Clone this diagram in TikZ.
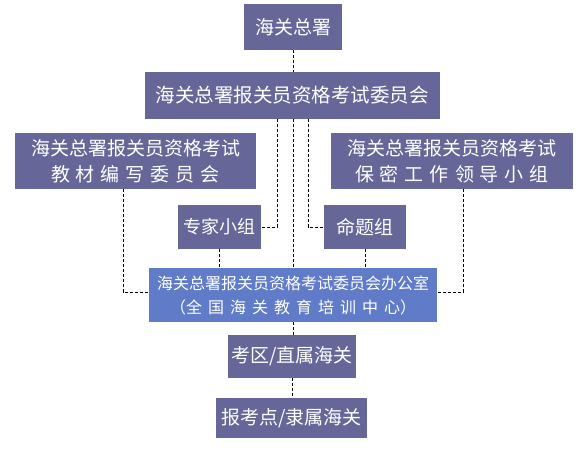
\documentclass[tikz,border=0pt]{standalone}
\usepackage{fontspec}
\newfontfamily\cjk{Noto Sans CJK SC}
\definecolor{boxc}{RGB}{102,102,153}
\definecolor{offc}{RGB}{96,124,200}
\newcommand\mygap{\hspace{6pt}}
\begin{document}
\begin{tikzpicture}[x=1pt,y=-1pt,
  box/.style={fill=boxc, text=white, inner sep=0pt, align=center, font=\cjk\fontsize{19}{26}\selectfont},
  conn/.style={draw=black, line width=0.7pt, dash pattern=on 3pt off 2pt}]
\useasboundingbox (0,0) rectangle (588,454);
\fill[white] (0,0) rectangle (588,454);

\node[box, minimum width=98pt, minimum height=46pt] (zs) at (293,27) {海关总署};
\node[box, minimum width=295pt, minimum height=47pt, font=\cjk\fontsize{19.5}{26}\selectfont] (wyh) at (292,95.5) {海关总署报关员资格考试委员会};
\node[box, minimum width=241pt, minimum height=56pt] (jc) at (135.5,161)
  {海关总署报关员资格考试\\教\mygap 材\mygap 编\mygap 写\mygap 委\mygap 员\mygap 会};
\node[box, minimum width=242pt, minimum height=56pt] (bm) at (452,161)
  {海关总署报关员资格考试\\保\mygap 密\mygap 工\mygap 作\mygap 领\mygap 导\mygap 小\mygap 组};
\node[box, minimum width=83pt, minimum height=44pt, font=\cjk\fontsize{18}{24}\selectfont] (zj) at (219.5,227) {专家小组};
\node[box, minimum width=82pt, minimum height=44pt] (mt) at (365,227) {命题组};
\node[box, fill=offc, minimum width=288pt, minimum height=54pt, font=\cjk\fontsize{16}{24}\selectfont] (bgs) at (293,295)
  {海关总署报关员资格考试委员会办公室\\（全\mygap 国\mygap 海\mygap 关\mygap 教\mygap 育\mygap 培\mygap 训\mygap 中\mygap 心）};
\node[box, minimum width=128pt, minimum height=43pt] (kq) at (292,356.5) {考区/直属海关};
\node[box, minimum width=151pt, minimum height=40pt] (bk) at (291.5,418) {报考点/隶属海关};

\draw[conn] (zs.south) -- (zs.south |- wyh.north);
\draw[conn] ([xshift=-15pt]wyh.south) |- (zj.east);
\draw[conn] ([xshift=16pt]wyh.south) |- (mt.west);
\draw[conn] (wyh.south -| bgs.north) -- (bgs.north);
\draw[conn] ([xshift=-12.5pt]jc.south) |- ([yshift=3pt]bgs.west);
\draw[conn] ([xshift=11pt]bm.south) |- ([yshift=3pt]bgs.east);
\draw[conn] (zj.south) -- (zj.south |- bgs.north);
\draw[conn] (mt.south) -- (mt.south |- bgs.north);
\draw[conn] (bgs.south) -- (bgs.south |- kq.north);
\draw[conn] (kq.south) -- (kq.south |- bk.north);
\end{tikzpicture}
\end{document}
